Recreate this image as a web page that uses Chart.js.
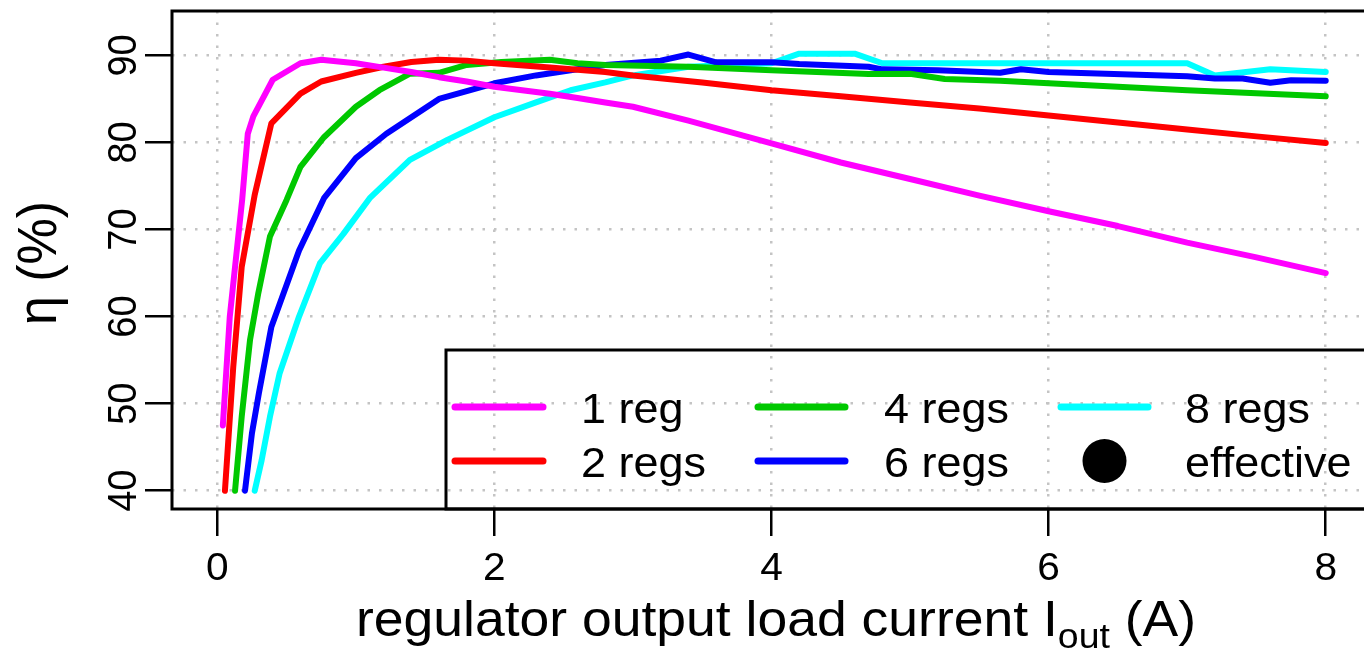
<!DOCTYPE html>
<html><head><meta charset="utf-8">
<style>html,body{margin:0;padding:0;background:#fff;overflow:hidden;width:1364px;height:652px}canvas{display:block}</style>
<script src="https://cdn.jsdelivr.net/npm/chart.js@4.4.0/dist/chart.umd.min.js"></script>
</head><body><canvas id="c" width="1400" height="652"></canvas>
<script>
// ---- data ----
const xTicks = [0, 2, 4, 6, 8];
const yTicks = [40, 50, 60, 70, 80, 90];
const seriesNames = ['1 reg', '2 regs', '4 regs', '6 regs', '8 regs'];
const seriesColors = ['#ff00ff', '#ff0000', '#00c800', '#0000ff', '#00ffff'];
const effectiveName = 'effective';

const reg1X = [0.04,0.09,0.18,0.22,0.26,0.4,0.6,0.75,1.0,1.2,1.4,1.6,1.8,2.0,2.2,2.4,2.6,2.8,3.0,3.4,4.0,4.5,5.0,5.5,6.0,6.5,7.0,7.5,8.0];
const reg1Y = [47.5,60,73.5,81,83,87.2,89.1,89.5,89.1,88.6,88.1,87.5,87.0,86.4,86.0,85.6,85.1,84.6,84.1,82.5,79.9,77.7,75.8,73.9,72.1,70.4,68.5,66.8,65.0];

const reg2X = [0.055,0.115,0.176,0.27,0.39,0.6,0.75,1.0,1.2,1.4,1.6,1.8,2.0,2.4,2.8,3.0,3.5,4.0,4.5,5.0,5.5,6.0,6.5,7.0,7.5,8.0];
const reg2Y = [40,54.2,65.7,74,82.2,85.6,87.0,88.0,88.7,89.25,89.5,89.4,89.1,88.6,88.1,87.7,86.9,86.0,85.3,84.6,83.9,83.1,82.3,81.5,80.7,79.95];

const reg4X = [0.128,0.176,0.236,0.296,0.38,0.5,0.6,0.77,1.0,1.17,1.39,1.6,1.8,2.05,2.4,2.6,2.8,3.4,4.0,4.7,5.0,5.25,5.65,6.0,7.0,8.0];
const reg4Y = [40,48.5,57.3,62.7,69.2,73.4,77.2,80.6,84.1,86.0,87.9,88.0,88.9,89.25,89.5,89.1,88.9,88.7,88.3,87.85,87.9,87.3,87.1,86.8,86.0,85.3];

const reg6X = [0.2,0.25,0.3,0.39,0.59,0.77,1.0,1.22,1.6,2.0,2.3,2.55,2.8,3.2,3.4,3.6,4.0,4.2,4.7,4.8,5.2,5.65,5.8,6.0,7.0,7.2,7.4,7.6,7.75,8.0];
const reg6Y = [40,46.6,51.2,58.8,67.6,73.6,78.2,81.0,85.0,86.8,87.7,88.3,88.9,89.4,90.1,89.2,89.2,89.0,88.7,88.4,88.3,88.0,88.4,88.1,87.6,87.35,87.35,86.85,87.15,87.1];

const reg8X = [0.27,0.32,0.38,0.45,0.59,0.74,0.91,1.1,1.39,1.66,2.0,2.3,2.55,2.8,3.0,3.4,4.0,4.2,4.6,4.8,7.0,7.2,7.6,8.0];
const reg8Y = [40,43.5,48.5,53.5,60.0,66.1,69.5,73.6,78.0,80.3,82.9,84.6,86.0,86.9,87.7,88.7,89.1,90.2,90.2,89.1,89.1,87.7,88.4,88.1];

const seriesX = [reg1X, reg2X, reg4X, reg6X, reg8X];
const seriesY = [reg1Y, reg2Y, reg4Y, reg6Y, reg8Y];

// ---- chart ----
const FONT = "'Liberation Sans', Arial, Helvetica, sans-serif";
const SX = 1.07; // horizontal text stretch of the reference

function stretchedText(ctx, txt, x, y, size, align, baseline, rotate) {
  ctx.save();
  ctx.translate(x, y);
  ctx.scale(SX, 1);
  if (rotate) ctx.rotate(-Math.PI / 2);
  ctx.font = size + 'px ' + FONT;
  ctx.textAlign = align;
  ctx.textBaseline = baseline;
  ctx.fillStyle = '#000';
  ctx.fillText(txt, 0, 0);
  ctx.restore();
}
function textW(ctx, txt, size) {
  ctx.font = size + 'px ' + FONT;
  return ctx.measureText(txt).width * SX;
}

const datasets = seriesNames.map((name, i) => ({
  label: name,
  data: seriesX[i].map((x, j) => ({ x: x, y: seriesY[i][j] })),
  borderColor: seriesColors[i],
  backgroundColor: seriesColors[i],
  borderWidth: 6,
  borderCapStyle: 'round',
  borderJoinStyle: 'round',
  pointRadius: 0,
  tension: 0,
  showLine: true,
  fill: false
}));
datasets.push({ label: effectiveName, data: [], borderColor: '#000', backgroundColor: '#000', pointRadius: 22, showLine: false });

const decor = {
  id: 'decor',
  afterDraw(chart) {
    const ctx = chart.ctx;
    const a = chart.chartArea;
    const xs = chart.scales.x, ys = chart.scales.y;
    // box
    ctx.save();
    ctx.strokeStyle = '#000';
    ctx.lineWidth = 3;
    ctx.strokeRect(a.left, a.top, a.right - a.left, a.bottom - a.top);
    ctx.restore();
    // x tick labels
    xTicks.forEach(v => stretchedText(ctx, String(v), xs.getPixelForValue(v), 580, 38, 'center', 'alphabetic', false));
    // y tick labels (rotated)
    yTicks.forEach(v => stretchedText(ctx, String(v), 136, ys.getPixelForValue(v), 38, 'center', 'alphabetic', true));
    // y title
    stretchedText(ctx, 'η (%)', 56, 263, 52, 'center', 'alphabetic', true);
    // x title with subscript
    const p1 = 'regulator output load current I', p2 = 'out', p3 = ' (A)';
    const w1 = textW(ctx, p1, 50), w2 = textW(ctx, p2, 35), w3 = textW(ctx, p3, 50);
    let x0 = 776 - (w1 + w2 + w3) / 2;
    stretchedText(ctx, p1, x0, 636, 50, 'left', 'alphabetic', false);
    stretchedText(ctx, p2, x0 + w1, 648, 35, 'left', 'alphabetic', false);
    stretchedText(ctx, p3, x0 + w1 + w2, 636, 50, 'left', 'alphabetic', false);
    // legend
    ctx.save();
    ctx.strokeStyle = '#000';
    ctx.lineWidth = 3;
    ctx.strokeRect(446, 350, 1500, a.bottom - 350);
    ctx.restore();
    const cols = [[455, 543, 581], [758, 845, 884], [1061, 1148, 1185]];
    const rowsY = [407, 461], rowsBase = [423, 477];
    const ds = chart.data.datasets;
    ds.forEach((d, i) => {
      const c = cols[Math.floor(i / 2)], r = i % 2;
      ctx.save();
      if (d.showLine === false) {
        ctx.fillStyle = d.backgroundColor;
        ctx.beginPath();
        ctx.arc((c[0] + c[1]) / 2, rowsY[r], 22, 0, Math.PI * 2);
        ctx.fill();
      } else {
        ctx.strokeStyle = d.borderColor;
        ctx.lineWidth = 7;
        ctx.lineCap = 'round';
        ctx.beginPath();
        ctx.moveTo(c[0], rowsY[r]);
        ctx.lineTo(c[1], rowsY[r]);
        ctx.stroke();
      }
      ctx.restore();
      stretchedText(ctx, d.label, c[2], rowsBase[r], 42, 'left', 'alphabetic', false);
    });
  }
};

new Chart(document.getElementById('c'), {
  type: 'scatter',
  data: { datasets: datasets },
  options: {
    responsive: false,
    animation: false,
    devicePixelRatio: 1,
    layout: { padding: { left: 145, top: 11, bottom: 116, right: 0 } },
    plugins: { legend: { display: false }, tooltip: { enabled: false } },
    scales: {
      x: {
        type: 'linear', min: -0.327, max: 8.536,
        afterBuildTicks: s => { s.ticks = xTicks.map(v => ({ value: v })); },
        afterFit: s => { s.height = 27; },
        ticks: { display: false },
        grid: { color: '#c4c4c4', lineWidth: 2.5, drawTicks: true, tickLength: 27, tickColor: '#000', tickWidth: 2.5 },
        border: { display: false, dash: [2.5, 9] }
      },
      y: {
        type: 'linear', min: 37.9, max: 95.1,
        afterBuildTicks: s => { s.ticks = yTicks.map(v => ({ value: v })); },
        afterFit: s => { s.width = 27; },
        ticks: { display: false },
        grid: { color: '#c4c4c4', lineWidth: 2.5, drawTicks: true, tickLength: 27, tickColor: '#000', tickWidth: 2.5 },
        border: { display: false, dash: [2.5, 9] }
      }
    }
  },
  plugins: [decor]
});
</script>
</body></html>
